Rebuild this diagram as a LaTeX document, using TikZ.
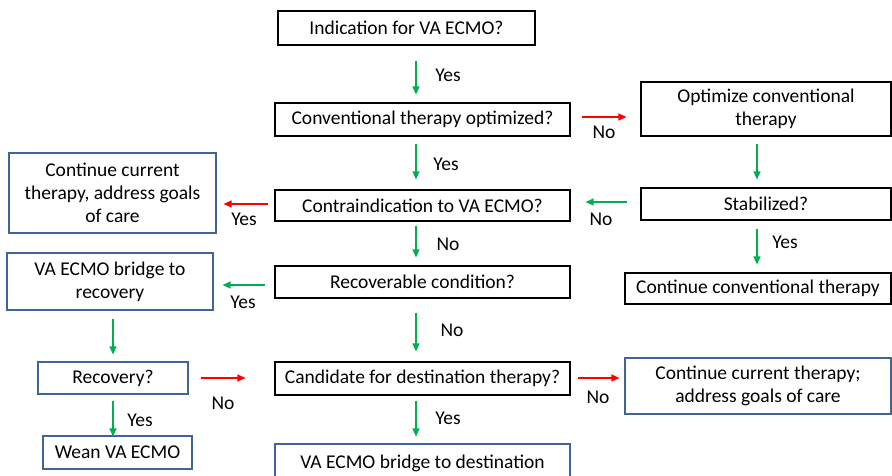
\documentclass[tikz,border=0pt]{standalone}
\usepackage{fontspec}
\setmainfont{Carlito}
\usetikzlibrary{arrows.meta,calc}
\definecolor{gArrow}{RGB}{0,176,80}
\definecolor{rArrow}{RGB}{255,0,0}
\definecolor{bBorder}{RGB}{65,100,150}
\tikzset{
  box/.style={draw=black,line width=1.1pt,align=center,inner sep=0pt,
    font=\fontsize{19.5}{23}\selectfont},
  bbox/.style={box,draw=bBorder},
  lab/.style={inner sep=0pt,font=\fontsize{19.5}{23}\selectfont},
  garrow/.style={draw=gArrow,line width=1.2pt,-{Triangle[length=8pt,width=7pt]}},
  rarrow/.style={draw=rArrow,line width=1.2pt,-{Triangle[length=8pt,width=7pt]}},
}
\begin{document}
\begin{tikzpicture}[x=1pt,y=-1pt]
\useasboundingbox (0,0) rectangle (892,475);
\clip (0,0) rectangle (892,475);
\fill[white] (0,0) rectangle (892,475);
% nodes
\node[box,minimum width=257pt,minimum height=34pt] (ind) at (406.5,28) {Indication for VA ECMO?};
\node[box,minimum width=295pt,minimum height=33pt] (conv) at (422.5,119.5) {Conventional therapy optimized?};
\node[box,minimum width=250pt,minimum height=54pt] (opt) at (766,109) {Optimize conventional\\therapy};
\node[box,minimum width=250pt,minimum height=32pt] (stab) at (766,204) {Stabilized?};
\node[box,minimum width=295pt,minimum height=31pt] (contra) at (422.5,205.5) {Contraindication to VA ECMO?};
\node[bbox,minimum width=207pt,minimum height=80pt] (cont1) at (112.5,193) {Continue current\\therapy, address goals\\of care};
\node[box,minimum width=295pt,minimum height=32pt] (recq) at (422.5,282) {Recoverable condition?};
\node[bbox,minimum width=206pt,minimum height=57pt] (bridge) at (110,281.5) {VA ECMO bridge to\\recovery};
\node[box,minimum width=266pt,minimum height=31pt] (contconv) at (758,288.5) {Continue conventional therapy};
\node[bbox,minimum width=150pt,minimum height=32pt] (recovery) at (113,378) {Recovery?};
\node[box,minimum width=295pt,minimum height=33pt] (cand) at (422.5,378.5) {Candidate for destination therapy?};
\node[bbox,minimum width=266pt,minimum height=56pt] (cont2) at (758,386) {Continue current therapy;\\address goals of care};
\node[bbox,minimum width=149pt,minimum height=33pt] (wean) at (117.5,452.5) {Wean VA ECMO};
\node[bbox,minimum width=295pt,minimum height=38pt] (dest) at (422.5,463) {VA ECMO bridge to destination};
% arrows
\draw[garrow] ($(ind.south)+(9.5,15)$) -- ($(conv.north)+(-6.5,-8)$);
\draw[rarrow] ($(conv.east)+(11,-2.5)$) -- ($(opt.west)+(-14,8)$);
\draw[garrow] ($(opt.south)+(-9,7)$) -- ($(stab.north)+(-9,-8)$);
\draw[garrow] ($(stab.west)+(-13,-2)$) -- ($(contra.east)+(15,-3.5)$);
\draw[garrow] ($(conv.south)+(-6.5,7)$) -- ($(contra.north)+(-6.5,-10)$);
\draw[rarrow] ($(contra.west)+(-6,-1.5)$) -- ($(cont1.east)+(7,11)$);
\draw[garrow] ($(contra.south)+(-6.5,4)$) -- ($(recq.north)+(-6.5,-8)$);
\draw[garrow] ($(recq.west)+(-9,3)$) -- ($(bridge.east)+(9,3.5)$);
\draw[garrow] ($(stab.south)+(-9,8)$) -- ($(contconv.north)+(-1,-8)$);
\draw[garrow] ($(bridge.south)+(3,8)$) -- ($(recovery.north)+(0,-7)$);
\draw[garrow] ($(recq.south)+(-6.5,14)$) -- ($(cand.north)+(-6.5,-10)$);
\draw[rarrow] ($(recovery.east)+(12,0)$) -- ($(cand.west)+(-29,-0.5)$);
\draw[rarrow] ($(cand.east)+(7,-0.5)$) -- ($(cont2.west)+(-5,-8)$);
\draw[garrow] ($(recovery.south)+(0,6)$) -- ($(wean.north)+(-4.5,1)$);
\draw[garrow] ($(cand.south)+(-6.5,5)$) -- ($(dest.north)+(-6.5,-7)$);
% labels
\node[lab] (l1) at (448,75) {Yes};
\node[lab] (l2) at (604,132) {No};
\node[lab] (l3) at (601,219) {No};
\node[lab] (l4) at (446,164) {Yes};
\node[lab] (l5) at (244,219) {Yes};
\node[lab] (l6) at (448,244) {No};
\node[lab] (l7) at (243,302) {Yes};
\node[lab] (l8) at (785,242) {Yes};
\node[lab] (l9) at (452,330) {No};
\node[lab] (l10) at (223,403) {No};
\node[lab] (l11) at (598,397) {No};
\node[lab] (l12) at (140,420) {Yes};
\node[lab] (l13) at (448,418) {Yes};
\end{tikzpicture}
\end{document}
